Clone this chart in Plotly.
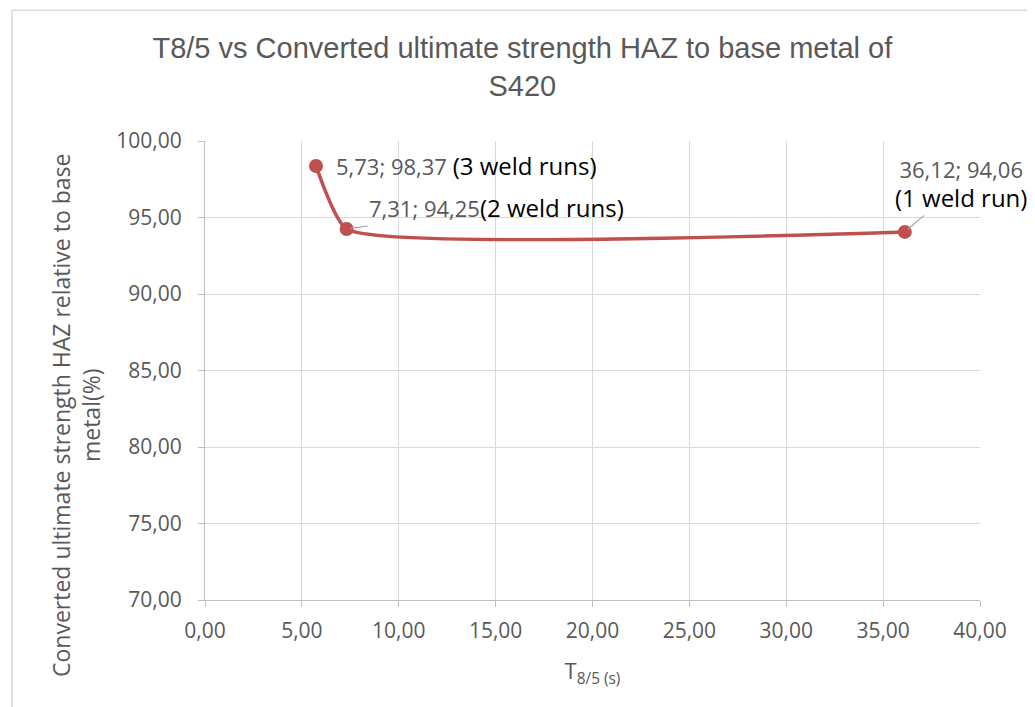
import plotly.graph_objects as go

# Data
t85 = [5.73, 7.31, 36.12]
strength = [98.37, 94.25, 94.06]
point_labels = ["5,73; 98,37", "7,31; 94,25", "36,12; 94,06"]
run_labels = ["(3 weld runs)", "(2 weld runs)", "(1 weld run)"]
x_ticks = [0, 5, 10, 15, 20, 25, 30, 35, 40]
y_ticks = [70, 75, 80, 85, 90, 95, 100]

RED = "#C0504D"
GRID = "#D9D9D9"
AXIS = "#BFBFBF"
LABEL_GRAY = "#595959"
TITLE_FONT = "Liberation Sans, Arial, sans-serif"
REG = "Open Sans, Liberation Sans, sans-serif"

fig = go.Figure()
fig.add_trace(go.Scatter(
    x=t85, y=strength, mode="lines+markers",
    line=dict(color=RED, width=3.5, shape="spline", smoothing=0.45),
    marker=dict(color=RED, size=14),
    showlegend=False, hoverinfo="x+y",
))

fmt = lambda v: f"{v:.2f}".replace(".", ",")

fig.update_layout(
    width=1035, height=707,
    margin=dict(l=197, r=63, t=133, b=115),
    paper_bgcolor="white", plot_bgcolor="white",
    title=dict(
        text="T8/5 vs Converted ultimate strength HAZ to base metal of<br>S420",
        x=0.497, xref="container", xanchor="center",
        y=0.929, yref="container", yanchor="middle",
        font=dict(family=TITLE_FONT, size=29, color="#595959"),
    ),
    xaxis=dict(
        range=[0, 40], tickvals=x_ticks, ticktext=[fmt(v) for v in x_ticks],
        showgrid=True, gridcolor=GRID, gridwidth=1,
        showline=True, linecolor=AXIS, linewidth=1,
        ticks="outside", ticklen=6, tickcolor=AXIS, ticklabelstandoff=6,
        tickfont=dict(family=REG, size=21, color="#595959"),
        zeroline=False,
        title=dict(text="T<sub>8/5 (s)</sub>", font=dict(family=REG, size=22, color="#595959"), standoff=20),
    ),
    yaxis=dict(
        range=[70, 100], tickvals=y_ticks, ticktext=[fmt(v) for v in y_ticks],
        showgrid=True, gridcolor=GRID, gridwidth=1,
        showline=True, linecolor=AXIS, linewidth=1,
        ticks="outside", ticklen=6, tickcolor=AXIS, ticklabelstandoff=12,
        tickfont=dict(family=REG, size=21, color="#595959"),
        zeroline=False,
    ),
)

# Y axis title as annotation (two lines, offset like the reference)
fig.add_annotation(
    text="Converted ultimate strength HAZ relative to base<br>metal(%)",
    xref="paper", yref="paper", x=-0.1665, y=0.403,
    xanchor="center", yanchor="middle", textangle=-90, showarrow=False,
    font=dict(family=REG, size=23, color="#595959"),
)

# Data labels
fig.add_annotation(
    x=t85[0], y=strength[0], xref="x", yref="y", showarrow=False,
    xanchor="left", yanchor="middle", xshift=18,
    text=f"<span style='color:{LABEL_GRAY}'>{point_labels[0]}</span> "
         f"<span style='color:black;font-size:24px'>{run_labels[0]}</span>",
    font=dict(family=REG, size=22, color=LABEL_GRAY),
)
fig.add_annotation(
    x=t85[1], y=strength[1], xref="x", yref="y",
    showarrow=True, arrowhead=0, arrowcolor="#A6A6A6", arrowwidth=1.2,
    ax=150, ay=-21, standoff=4,
    text=f"<span style='color:{LABEL_GRAY}'>{point_labels[1]}</span>"
         f"<span style='color:black;font-size:24px'>{run_labels[1]}</span>",
    font=dict(family=REG, size=22, color=LABEL_GRAY),
)
fig.add_annotation(
    x=t85[2], y=strength[2], xref="x", yref="y",
    showarrow=True, arrowhead=0, arrowcolor="#A6A6A6", arrowwidth=1.2,
    ax=56, ay=-48, standoff=4,
    text=f"<span style='color:{LABEL_GRAY}'>{point_labels[2]}</span><br>"
         f"<span style='color:black;font-size:24px'>{run_labels[2]}</span>",
    font=dict(family=REG, size=22, color=LABEL_GRAY),
)

# Chart area border
fig.add_shape(type="rect", xref="paper", yref="paper",
              x0=-0.249, x1=1.2, y0=-0.4, y1=1.285,
              line=dict(color="#D9D9D9", width=1.5), layer="below")

fig.write_html("out.html")
